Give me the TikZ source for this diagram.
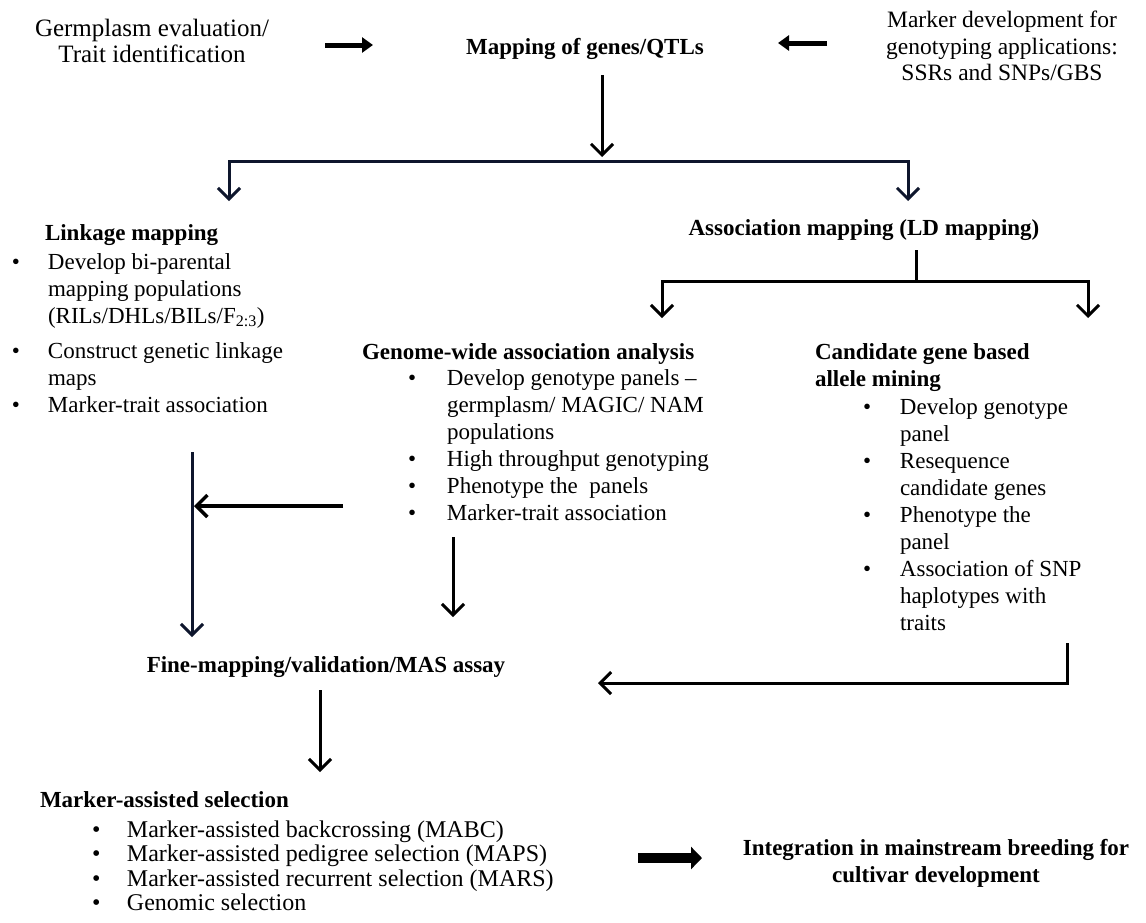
\documentclass[tikz,border=0pt]{standalone}
\usepackage{fontspec}
\setmainfont{Liberation Serif}
\usetikzlibrary{arrows.meta}
\definecolor{navy}{RGB}{14,22,45}
\begin{document}
\begin{tikzpicture}[x=1pt,y=-1pt,
  txt/.style={inner sep=0pt, outer sep=0pt, font=\fontsize{23}{27}\selectfont},
  hd/.style={inner sep=0pt, outer sep=0pt, font=\fontsize{23}{27}\selectfont\bfseries},
  conn/.style={line width=3pt, line join=miter, -{Straight Barb[length=11pt,width=22pt]}},
  fatarrow/.style={line width=5pt, -{Triangle[length=11pt,width=15pt]}},
  blockarrow/.style={line width=10pt, -{Triangle[length=11pt,width=22pt]}},
]
\useasboundingbox (0,0) rectangle (1146,922);
\fill[white] (0,0) rectangle (1146,922);

% ---------- top row ----------
\node[txt, font=\fontsize{25}{26}\selectfont, anchor=base] (germ) at (152,36) {\begin{tabular}[t]{@{}c@{}}Germplasm evaluation/\\Trait identification\end{tabular}};
\node[hd, anchor=base] (map) at (585,54) {Mapping of genes/QTLs};
\node[txt, font=\fontsize{23.5}{27}\selectfont, anchor=base] (mdev) at (1002,27) {\begin{tabular}[t]{@{}c@{}}Marker development for\\genotyping applications:\\[-1pt]SSRs and SNPs/GBS\end{tabular}};

\coordinate (g1) at (325,45); \coordinate (g2) at (373,45);
\coordinate (m1) at (827,43); \coordinate (m2) at (778,43);
\draw[fatarrow] (g1) -- (g2);
\draw[fatarrow] (m1) -- (m2);

% ---------- split to linkage / association ----------
\coordinate (d0) at (602,75); \coordinate (d1) at (602,157);
\draw[conn] (d0) -- (d1);
\coordinate (sL) at (229,161); \coordinate (sR) at (908,161);
\coordinate (tL) at (229,201); \coordinate (tR) at (908,201);
\draw[conn, navy, {Straight Barb[length=11pt,width=22pt]}-{Straight Barb[length=11pt,width=22pt]}] (tL) -- (sL) -- (sR) -- (tR);

% ---------- linkage mapping ----------
\node[hd, anchor=base west] (lkh) at (45,240) {Linkage mapping};
\node[txt, anchor=base west] (lkl) at (12,269) {\begin{tabular}[t]{@{}p{36pt}@{}l@{}}
\textbullet & Develop bi-parental\\
 & mapping populations\\
 & (RILs/DHLs/BILs/F\textsubscript{2:3})\\[8pt]
\textbullet & Construct genetic linkage\\
 & maps\\
\textbullet & Marker-trait association
\end{tabular}};

% ---------- association mapping ----------
\node[hd, anchor=base] (amh) at (864,235) {Association mapping (LD mapping)};
\coordinate (a0) at (916,250); \coordinate (a1) at (916,281);
\coordinate (aL) at (662,281); \coordinate (aR) at (1088,281);
\coordinate (aLt) at (662,318); \coordinate (aRt) at (1088,318);
\draw[line width=3pt] (a0) -- (a1);
\draw[conn, {Straight Barb[length=11pt,width=22pt]}-{Straight Barb[length=11pt,width=22pt]}] (aLt) -- (aL) -- (aR) -- (aRt);

% ---------- GWAS ----------
\node[hd, anchor=base west] (gwh) at (362,359) {Genome-wide association analysis};
\node[txt, anchor=base west] (gwl) at (408,385) {\begin{tabular}[t]{@{}p{39pt}@{}l@{}}
\textbullet & Develop genotype panels --\\
 & germplasm/ MAGIC/ NAM\\
 & populations\\
\textbullet & High throughput genotyping\\
\textbullet & Phenotype the\ \ panels\\
\textbullet & Marker-trait association
\end{tabular}};

% ---------- candidate gene ----------
\node[hd, anchor=base west] (cgh) at (815,359) {\begin{tabular}[t]{@{}l@{}}Candidate gene based\\allele mining\end{tabular}};
\node[txt, anchor=base west] (cgl) at (863,414) {\begin{tabular}[t]{@{}p{37pt}@{}l@{}}
\textbullet & Develop genotype\\
 & panel\\
\textbullet & Resequence\\
 & candidate genes\\
\textbullet & Phenotype the\\
 & panel\\
\textbullet & Association of SNP\\
 & haplotypes with\\
 & traits
\end{tabular}};

% ---------- arrows to fine-mapping ----------
\coordinate (v0) at (192,452); \coordinate (v1) at (192,637);
\draw[conn, navy] (v0) -- (v1);
\coordinate (h0) at (343,506); \coordinate (h1) at (194,506);
\draw[conn, line width=3.5pt] (h0) -- (h1);
\coordinate (w0) at (453,537); \coordinate (w1) at (453,617);
\draw[conn] (w0) -- (w1);
\coordinate (e0) at (1067,643); \coordinate (e1) at (1067,683); \coordinate (e2) at (598,683);
\draw[conn] (e0) -- (e1) -- (e2);

% ---------- fine mapping ----------
\node[hd, anchor=base] (fm) at (326,672) {Fine-mapping/validation/MAS assay};
\coordinate (f0) at (320,690); \coordinate (f1) at (320,772);
\draw[conn] (f0) -- (f1);

% ---------- MAS ----------
\node[hd, anchor=base west] (mash) at (40,807) {Marker-assisted selection};
\node[txt, font=\fontsize{24}{24.5}\selectfont, anchor=base west] (masl) at (92,837) {\begin{tabular}[t]{@{}p{35pt}@{}l@{}}
\textbullet & Marker-assisted backcrossing (MABC)\\
\textbullet & Marker-assisted pedigree selection (MAPS)\\
\textbullet & Marker-assisted recurrent selection (MARS)\\
\textbullet & Genomic selection
\end{tabular}};

\coordinate (b0) at (638,858); \coordinate (b1) at (702,858);
\draw[blockarrow] (b0) -- (b1);
\node[hd, anchor=base] (integ) at (936,855) {\begin{tabular}[t]{@{}c@{}}Integration in mainstream breeding for\\cultivar development\end{tabular}};
\end{tikzpicture}
\end{document}
